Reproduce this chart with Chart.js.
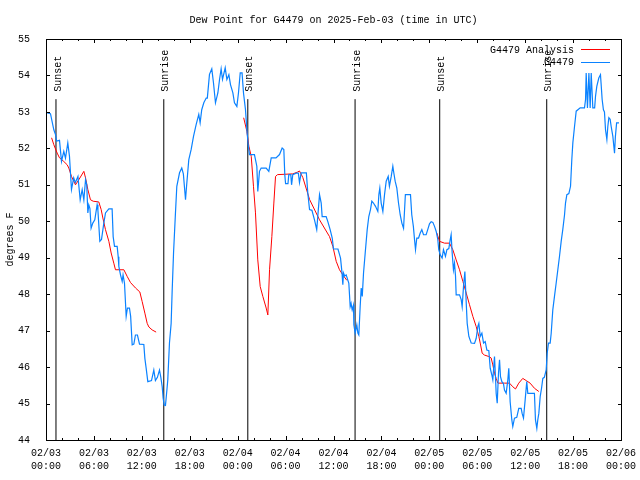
<!DOCTYPE html>
<html>
<head>
<meta charset="utf-8">
<script src="https://cdn.jsdelivr.net/npm/chart.js@4"></script>
<style>
  body { margin: 0; background: #fff; }
  canvas { display: block; }
</style>
</head>
<body>
<canvas id="dewChart" width="640" height="480"></canvas>
<script>
// #-------------- Chart data (hours since 02/03 00:00 UTC) --------------#

const xTickDates = ['02/03', '02/03', '02/03', '02/03', '02/04', '02/04', '02/04',
                    '02/04', '02/05', '02/05', '02/05', '02/05', '02/06'];
const xTickTimes = ['00:00', '06:00', '12:00', '18:00', '00:00', '06:00', '12:00',
                    '18:00', '00:00', '06:00', '12:00', '18:00', '00:00'];

// Station observations
const stationHours = [
  0.15, 0.56, 0.98, 1.19, 1.33, 1.69, 1.94, 2.23, 2.44, 2.73, 2.94, 3.19, 3.47, 3.67, 4.0,
  4.28, 4.53, 4.74, 4.95, 5.1, 5.24, 5.36, 5.5, 5.65, 5.86, 6.11, 6.4, 6.5, 6.74, 6.95,
  7.24, 7.45, 7.87, 8.28, 8.41, 8.58, 8.91, 9.04, 9.12, 9.33, 9.54, 9.65, 9.83, 10.04, 10.2,
  10.45, 10.6, 10.79, 11.0, 11.2, 11.45, 11.71, 12.25, 12.38, 12.54, 12.75, 13.21, 13.5, 13.7, 13.95,
  14.21, 14.38, 14.55, 14.67, 14.8, 14.96, 15.15, 15.25, 15.46, 15.67, 15.8, 15.97, 16.2, 16.38, 16.72,
  17.0, 17.2, 17.47, 17.6, 17.88, 18.18, 18.47, 18.8, 19.13, 19.3, 19.5, 19.76, 20.06, 20.2, 20.47,
  20.76, 20.97, 21.22, 21.52, 21.73, 21.93, 22.1, 22.44, 22.65, 22.9, 23.1, 23.4, 23.6, 23.9, 24.1,
  24.32, 24.55, 24.73, 24.98, 25.15, 25.32, 25.48, 26.1, 26.4, 26.52, 26.73, 26.94, 27.57, 27.9, 28.2,
  28.8, 29.24, 29.57, 29.78, 29.9, 30.0, 30.3, 30.4, 30.65, 30.75, 30.9, 31.33, 31.6, 31.74, 31.95,
  32.6, 32.78, 33.0, 33.3, 33.62, 33.9, 34.25, 34.46, 34.58, 35.08, 35.29, 35.58, 35.84, 36.0, 36.56,
  36.88, 37.05, 37.17, 37.25, 37.4, 37.59, 37.92, 38.09, 38.2, 38.34, 38.5, 38.55, 38.71, 38.92, 39.05,
  39.17, 39.34, 39.47, 39.6, 39.76, 39.97, 40.22, 40.42, 40.63, 40.8, 41.0, 41.26, 41.55, 41.68, 41.8,
  41.97, 42.18, 42.39, 42.6, 42.85, 43.0, 43.23, 43.43, 43.55, 43.72, 43.93, 44.14, 44.35, 44.56, 44.77,
  44.9, 45.0, 45.64, 45.8, 46.0, 46.15, 46.27, 46.43, 46.65, 46.86, 47.06, 47.27, 47.6, 47.8, 48.02,
  48.23, 48.44, 48.65, 48.86, 49.06, 49.18, 49.36, 49.6, 49.77, 50.02, 50.2, 50.44, 50.61, 50.73, 50.86,
  51.02, 51.15, 51.28, 51.36, 51.78, 51.99, 52.11, 52.28, 52.45, 52.62, 52.74, 52.95, 53.24, 53.66, 53.87,
  54.07, 54.2, 54.37, 54.58, 54.79, 55.0, 55.2, 55.45, 55.62, 55.82, 55.95, 56.16, 56.28, 56.37, 56.5,
  56.66, 56.79, 56.91, 57.08, 57.28, 57.41, 57.62, 57.83, 57.95, 58.12, 58.33, 58.45, 58.66, 58.95, 59.2,
  59.5, 59.62, 59.79, 60.0, 60.2, 60.33, 60.66, 61.16, 61.29, 61.46, 61.58, 61.71, 61.88, 62.05, 62.21,
  62.4, 62.63, 62.76, 62.92, 63.13, 63.26, 63.46, 63.67, 63.88, 64.09, 64.3, 64.51, 64.71, 64.93, 65.05,
  65.22, 65.47, 65.68, 65.84, 65.97, 66.18, 66.39, 66.89, 67.43, 67.56, 67.64, 67.8, 67.98, 68.14, 68.27,
  68.47, 68.7, 68.81, 68.97, 69.22, 69.43, 69.5, 69.64, 69.8, 69.93, 70.06, 70.23, 70.35, 70.48, 70.64,
  70.77, 70.98, 71.19, 71.3, 71.45, 71.75
];
const stationDew = [
  52.97, 52.95, 52.51, 52.38, 52.2, 52.22, 51.64, 51.92, 51.73, 52.15, 51.78, 50.87, 51.19, 51.06, 51.23,
  50.59, 50.87, 50.59, 51.14, 51.0, 50.23, 50.45, 50.35, 49.81, 49.95, 50.04, 50.45, 50.3, 49.45, 49.5,
  49.95, 50.23, 50.34, 50.34, 49.58, 49.31, 49.31, 49.03, 48.76, 48.53, 48.35, 48.53, 48.3, 47.39, 47.62,
  47.62, 47.39, 46.61, 46.63, 46.88, 46.88, 46.63, 46.62, 46.24, 45.97, 45.6, 45.63, 45.92, 45.63, 45.72,
  45.92, 45.72, 45.46, 45.15, 44.96, 44.95, 45.4, 45.65, 46.66, 47.2, 48.1, 49.13, 50.18, 50.96, 51.33,
  51.46, 51.3, 50.59, 50.96, 51.69, 51.97, 52.33, 52.65, 52.93, 52.7, 53.06, 53.25, 53.38, 53.38, 54.03,
  54.18, 53.8, 53.25, 53.52, 53.89, 54.18, 53.89, 54.21, 53.89, 54.02, 53.75, 53.52, 53.25, 53.15, 53.52,
  54.07, 54.07, 53.52, 53.06, 52.51, 52.1, 51.83, 51.83, 51.51, 50.82, 51.37, 51.46, 51.46, 51.37, 51.74,
  51.74, 51.83, 52.01, 51.97, 51.28, 51.03, 51.03, 51.28, 51.28, 51.0, 51.28, 51.32, 51.32, 51.06, 51.33,
  51.33, 50.78, 50.32, 50.3, 50.04, 49.77, 50.73, 50.5, 50.13, 50.13, 49.99, 49.77, 49.54, 49.24, 49.24,
  48.99, 48.62, 48.26, 48.58, 48.5, 48.53, 48.3, 47.66, 47.75, 47.57, 47.7, 47.16, 46.93, 47.16, 46.93,
  46.88, 47.66, 48.17, 47.94, 48.58, 49.13, 49.77, 50.13, 50.32, 50.55, 50.5, 50.41, 50.27, 50.73, 50.91,
  50.5, 50.27, 50.73, 51.1, 51.23, 50.96, 51.23, 51.51, 51.33, 51.1, 50.91, 50.5, 50.18, 49.95, 49.81,
  50.32, 50.73, 50.73, 50.18, 49.86, 49.49, 49.22, 49.54, 49.54, 49.68, 49.77, 49.63, 49.63, 49.77, 49.93,
  49.99, 49.97, 49.86, 49.72, 49.5, 49.22, 49.08, 48.99, 49.22, 49.04, 49.22, 49.25, 49.49, 49.63, 49.13,
  48.67, 48.85, 48.49, 47.98, 47.98, 47.85, 47.66, 48.21, 48.62, 47.76, 47.2, 46.84, 46.66, 46.65, 46.79,
  47.11, 47.2, 46.84, 46.93, 46.66, 46.7, 46.47, 46.45, 45.97, 45.79, 45.65, 46.29, 45.74, 45.28, 45.01,
  45.83, 46.2, 45.74, 45.6, 45.55, 45.37, 45.28, 45.65, 45.97, 45.05, 44.55, 44.37, 44.6, 44.62, 44.87,
  44.87, 44.73, 44.6, 45.1, 45.6, 45.28, 45.28, 45.28, 44.55, 44.32, 44.55, 44.73, 45.19, 45.42, 45.69,
  45.72, 45.92, 46.38, 46.66, 46.66, 46.93, 47.57, 47.94, 48.3, 48.67, 49.04, 49.45, 49.77, 50.18, 50.5,
  50.73, 50.76, 50.96, 51.69, 52.15, 52.6, 53.02, 53.11, 53.11, 53.34, 54.07, 53.11, 54.07, 53.11, 54.07,
  53.11, 53.11, 53.43, 53.7, 53.93, 54.02, 53.8, 53.34, 53.06, 53.0, 52.51, 52.24, 52.6, 52.84, 52.8,
  52.6, 52.33, 51.87, 52.33, 52.7, 52.7
];

// Analysis (null breaks the line between runs)
const analysisHours = [
  0.7, 0.98, 1.4, 1.69, 2.23, 2.65, 2.86, 3.19, 3.69, 4.11, 4.74, 4.95, 5.24, 5.57, 5.91,
  6.61, 6.91, 7.12, 7.45, 7.87, 8.16, 8.49, 8.7, 9.75, 10.16, 10.58, 11.21, 11.75, 12.04, 12.38,
  12.67, 12.88, 13.29, 13.79, 19.0,
  24.75, 25.15, 25.4, 25.7, 25.98, 26.23, 26.52, 26.82, 27.15, 27.57, 27.78, 27.99, 28.28, 28.53, 28.74,
  29.0, 30.9, 31.5, 31.74, 32.16, 33.0, 34.25, 35.5, 35.92, 36.34, 36.75, 37.17, 37.67, 43.0,
  48.94, 49.27, 49.9, 50.52, 50.94, 51.36, 51.78, 52.2, 52.62, 53.03, 53.45, 53.87, 54.2, 54.37, 54.62,
  54.9, 55.45, 55.74, 55.95, 56.16, 56.37, 56.58, 57.41, 58.04, 58.45, 58.79, 59.2, 59.7, 60.2, 60.62,
  61.16, 61.71
];
const analysisDew = [
  52.29, 52.1, 51.87, 51.74, 51.64, 51.55, 51.46, 51.23, 51.0, 51.14, 51.37, 51.19, 50.87, 50.59, 50.55,
  50.53, 50.32, 50.09, 49.77, 49.45, 49.13, 48.85, 48.67, 48.67, 48.49, 48.32, 48.17, 48.06, 47.8, 47.48,
  47.2, 47.1, 47.02, 46.96, null,
  52.84, 52.47, 52.06, 51.78, 50.96, 50.23, 48.94, 48.21, 47.94, 47.62, 47.43, 48.67, 49.58, 50.5, 51.23,
  51.28, 51.3, 51.35, 51.38, 51.2, 50.6, 50.04, 49.58, 49.31, 48.9, 48.67, 48.53, 48.38, null,
  49.68, 49.45, 49.4, 49.4, 49.22, 48.94, 48.67, 48.35, 48.03, 47.71, 47.39, 47.11, 46.84, 46.66, 46.38,
  46.33, 46.29, 46.25, 46.06, 45.83, 45.69, 45.56, 45.56, 45.56, 45.46, 45.4, 45.56, 45.69, 45.62, 45.56,
  45.42, 45.33
];

// Sun events
const sunHours  = [1.25, 14.75, 25.27, 38.7, 49.3, 62.7];
const sunLabels = ['Sunset', 'Sunrise', 'Sunset', 'Sunrise', 'Sunset', 'Sunrise'];
const sunLineTop  = 53.35;
const sunLabelPos = 53.55;

// #-------------- Styling --------------#

const monoFont = 'Liberation Mono, DejaVu Sans Mono, monospace';
Chart.defaults.font.family = monoFont;
Chart.defaults.font.size = 10;
Chart.defaults.color = '#000';

function toPoints(xs, ys) {
    return xs.map((x, i) => ({x: x, y: ys[i]}));
}

// Border, inward tick marks and sun labels, gnuplot style
const framePlugin = {
    id: 'frame',
    afterDatasetsDraw(chart) {
        const ctx = chart.ctx;
        const xs = chart.scales.x;
        ctx.save();
        ctx.font = '10px ' + monoFont;
        ctx.fillStyle = '#000';
        ctx.textAlign = 'left';
        ctx.textBaseline = 'middle';
        sunHours.forEach((h, i) => {
            ctx.save();
            ctx.translate(xs.getPixelForValue(h) + 2, chart.scales.y.getPixelForValue(sunLabelPos));
            ctx.rotate(-Math.PI / 2);
            ctx.fillText(sunLabels[i], 0, 0);
            ctx.restore();
        });
        ctx.restore();
    },
    afterDraw(chart) {
        const ctx = chart.ctx;
        const ca = chart.chartArea;
        const xs = chart.scales.x, ys = chart.scales.y;
        ctx.save();
        ctx.strokeStyle = '#000';
        ctx.lineWidth = 1;
        ctx.strokeRect(ca.left + 0.5, ca.top + 0.5, ca.right - ca.left, ca.bottom - ca.top);
        ctx.beginPath();
        xs.ticks.forEach(t => {
            const px = Math.round(xs.getPixelForValue(t.value)) + 0.5;
            const len = t.value % 6 === 0 ? 4 : 2;
            ctx.moveTo(px, ca.bottom);
            ctx.lineTo(px, ca.bottom - len);
            ctx.moveTo(px, ca.top);
            ctx.lineTo(px, ca.top + len);
        });
        ys.ticks.forEach(t => {
            const py = Math.round(ys.getPixelForValue(t.value)) + 0.5;
            ctx.moveTo(ca.left, py);
            ctx.lineTo(ca.left + 4, py);
            ctx.moveTo(ca.right + 1, py);
            ctx.lineTo(ca.right - 3, py);
        });
        ctx.stroke();

        // legend: text then line sample, top right
        ctx.font = '10px ' + monoFont;
        ctx.textAlign = 'right';
        ctx.textBaseline = 'middle';
        chart.data.datasets.filter(ds => !ds.sunLine).forEach((ds, i) => {
            const y = 50 + i * 12.5;
            ctx.fillStyle = '#000';
            ctx.fillText(ds.label, 574, y);
            ctx.strokeStyle = ds.borderColor;
            ctx.beginPath();
            ctx.moveTo(581, Math.round(y) - 0.5);
            ctx.lineTo(610, Math.round(y) - 0.5);
            ctx.stroke();
        });
        ctx.restore();
    }
};

const sunDatasets = sunHours.map(h => ({
    label: '',
    sunLine: true,
    data: [{x: h, y: 44}, {x: h, y: sunLineTop}],
    borderColor: '#000',
    borderWidth: 1,
    pointRadius: 0,
    order: 2,
}));

new Chart(document.getElementById('dewChart').getContext('2d'), {
    type: 'line',
    data: {
        datasets: [{
            label: 'G4479 Analysis',
            data: toPoints(analysisHours, analysisDew),
            borderColor: '#ff0000',
            borderWidth: 1,
            pointRadius: 0,
            spanGaps: false,
            order: 1,
        }, {
            label: 'G4479',
            data: toPoints(stationHours, stationDew),
            borderColor: '#0a82ff',
            borderWidth: 1.2,
            pointRadius: 0,
            order: 0,
        }, ...sunDatasets],
    },
    options: {
        responsive: false,
        animation: false,
        events: [],
        layout: { padding: { right: 19 } },
        plugins: {
            legend: { display: false },
            tooltip: { enabled: false },
            title: {
                display: true,
                fullSize: false,
                text: 'Dew Point for G4479 on 2025-Feb-03 (time in UTC)',
                font: { family: monoFont, size: 10, weight: 'normal', lineHeight: 1.2 },
                color: '#000',
                padding: { top: 14, bottom: 13 },
            },
        },
        scales: {
            x: {
                type: 'linear',
                min: 0,
                max: 72,
                grid: { display: false },
                border: { display: false },
                afterFit: scale => { scale.height = 40; },
                ticks: {
                    stepSize: 2,
                    autoSkip: false,
                    maxRotation: 0,
                    minRotation: 0,
                    padding: -1,
                    font: { lineHeight: 1.3 },
                    callback: v => v % 6 === 0 ? [xTickDates[v / 6], xTickTimes[v / 6]] : '',
                },
            },
            y: {
                min: 44,
                max: 55,
                grid: { display: false },
                border: { display: false },
                afterFit: scale => { scale.width = 46; },
                ticks: { stepSize: 1, padding: 8 },
                title: {
                    display: true,
                    text: 'degrees F',
                    font: { family: monoFont, size: 10, lineHeight: 1.2 },
                    padding: { top: 4, bottom: 0 },
                },
            },
        },
    },
    plugins: [framePlugin],
});
</script>
</body>
</html>
